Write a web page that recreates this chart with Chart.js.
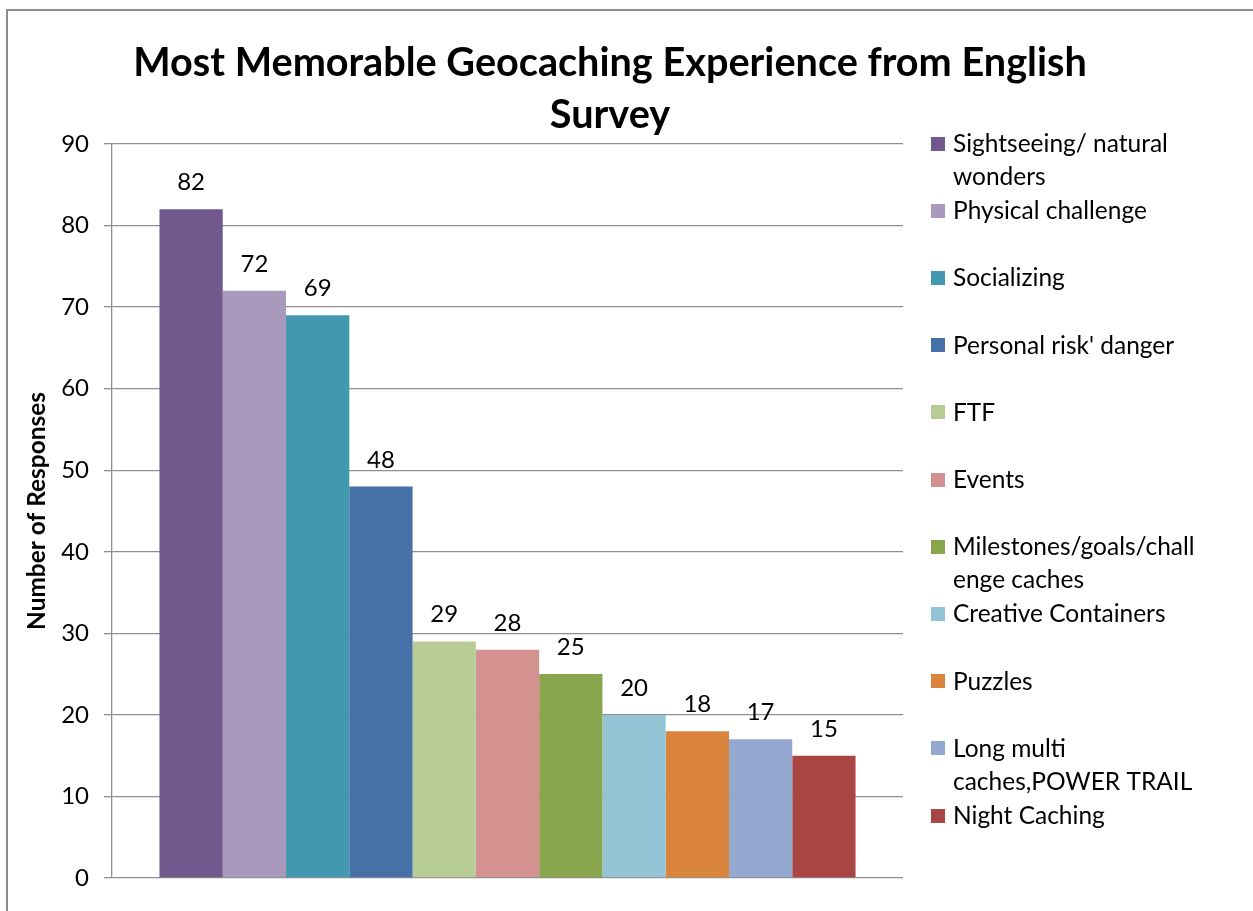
<!DOCTYPE html>
<html>
<head>
<meta charset="utf-8">
<script src="https://cdn.jsdelivr.net/npm/chart.js@4.4.0/dist/chart.umd.min.js"></script>
<style>
html,body{margin:0;padding:0;background:#fff;overflow:hidden;}
#wrap{width:1253px;height:911px;position:relative;}
canvas{display:block;}
</style>
</head>
<body>
<div id="wrap"><canvas id="c" width="1253" height="911"></canvas></div>
<script>
// ---- data ----
const categories = [
  "Sightseeing/ natural wonders",
  "Physical challenge",
  "Socializing",
  "Personal risk' danger",
  "FTF",
  "Events",
  "Milestones/goals/challenge caches",
  "Creative Containers",
  "Puzzles",
  "Long multi caches,POWER TRAIL",
  "Night Caching"
];
const legendLines = [
  ["Sightseeing/ natural", "wonders"],
  ["Physical challenge"],
  ["Socializing"],
  ["Personal risk' danger"],
  ["FTF"],
  ["Events"],
  ["Milestones/goals/chall", "enge caches"],
  ["Creative Containers"],
  ["Puzzles"],
  ["Long multi", "caches,POWER TRAIL"],
  ["Night Caching"]
];
const values = [82, 72, 69, 48, 29, 28, 25, 20, 18, 17, 15];
const colors = ["#71598E", "#A99ABD", "#4198AF", "#4571A8", "#B8CD96", "#D39190",
                "#89A54E", "#93C4D6", "#DB843D", "#95A9D0", "#A94644"];
const yTicks = [0, 10, 20, 30, 40, 50, 60, 70, 80, 90];
const titleLines = ["Most Memorable Geocaching Experience from English", "Survey"];
const yAxisTitle = "Number of Responses";

// ---- styling helpers ----
const FONT = "Lato";
const mctx = document.createElement("canvas").getContext("2d");
function fitSize(text, weight, target) {
  mctx.font = weight + " 100px " + FONT;
  return 100 * target / mctx.measureText(text).width;
}

function build() {
  const titleSize = fitSize(titleLines[0], "bold", 954);
  const legendSize = fitSize("Physical challenge", "normal", 194);
  const yTitleSize = fitSize(yAxisTitle, "bold", 238);

  const frame = {
    id: "frame",
    beforeDraw(chart) {
      const ctx = chart.ctx;
      ctx.save();
      ctx.fillStyle = "#fff";
      ctx.fillRect(0, 0, chart.width, chart.height);
      ctx.strokeStyle = "#8c8c8c";
      ctx.lineWidth = 2;
      ctx.strokeRect(7, 10, 1400, 1100);
      ctx.restore();
    }
  };

  const titlePlugin = {
    id: "titleLines",
    afterDraw(chart) {
      const ctx = chart.ctx;
      ctx.save();
      ctx.fillStyle = "#000";
      ctx.font = "bold " + titleSize + "px " + FONT;
      ctx.textAlign = "center";
      ctx.textBaseline = "alphabetic";
      const baselines = [76, 128];
      titleLines.forEach((t, i) => ctx.fillText(t, 610, baselines[i]));
      ctx.restore();
    }
  };

  const dataLabels = {
    id: "dataLabels",
    afterDatasetsDraw(chart) {
      const ctx = chart.ctx;
      ctx.save();
      ctx.fillStyle = "#000";
      ctx.font = "24px " + FONT;
      ctx.textAlign = "center";
      ctx.textBaseline = "alphabetic";
      chart.data.datasets.forEach((ds, i) => {
        const meta = chart.getDatasetMeta(i);
        meta.data.forEach((bar, j) => {
          ctx.fillText(String(ds.data[j]), bar.x, bar.y - 19);
        });
      });
      ctx.restore();
    }
  };

  const legendPlugin = {
    id: "sideLegend",
    afterDraw(chart) {
      const ctx = chart.ctx;
      ctx.save();
      ctx.font = legendSize + "px " + FONT;
      ctx.textAlign = "left";
      ctx.textBaseline = "alphabetic";
      chart.data.datasets.forEach((ds, i) => {
        const cy = 143.5 + i * 67.2;
        ctx.fillStyle = ds.backgroundColor;
        ctx.fillRect(931, Math.round(cy - 7), 14, 14);
        ctx.fillStyle = "#000";
        legendLines[i].forEach((line, k) => {
          ctx.fillText(line, 953, cy + 8.5 + k * 33);
        });
      });
      ctx.restore();
    }
  };

  new Chart(document.getElementById("c"), {
    type: "bar",
    data: {
      labels: [""],
      datasets: categories.map((c, i) => ({
        label: c,
        data: [values[i]],
        backgroundColor: colors[i],
        borderWidth: 0,
        barPercentage: 1,
        categoryPercentage: 0.88
      }))
    },
    options: {
      responsive: false,
      animation: false,
      devicePixelRatio: 1,
      layout: { padding: { left: 0, top: 144, right: 350, bottom: 33 } },
      plugins: { legend: { display: false }, tooltip: { enabled: false }, title: { display: false } },
      scales: {
        x: { display: false, grid: { display: false } },
        y: {
          min: 0, max: 90,
          afterBuildTicks(s) { s.ticks = yTicks.map(v => ({ value: v })); },
          afterFit(s) { s.width = 112; },
          ticks: { color: "#000", font: { family: FONT, size: 24 }, padding: 15 },
          grid: { color: "#8e8e8e", lineWidth: 1.3, tickLength: 8, tickColor: "#8e8e8e", drawTicks: true },
          border: { display: true, color: "#8e8e8e", width: 1.3 },
          title: {
            display: true, text: yAxisTitle, color: "#000",
            font: { family: FONT, weight: "bold", size: yTitleSize, lineHeight: 1.2 },
            padding: { top: 37 - yTitleSize * 0.6, bottom: 0 }
          }
        }
      }
    },
    plugins: [frame, dataLabels, titlePlugin, legendPlugin]
  });
}

if (document.fonts && document.fonts.load) {
  Promise.all([
    document.fonts.load("22px " + FONT),
    document.fonts.load("bold 22px " + FONT)
  ]).then(build, build);
} else {
  build();
}
</script>
</body>
</html>
